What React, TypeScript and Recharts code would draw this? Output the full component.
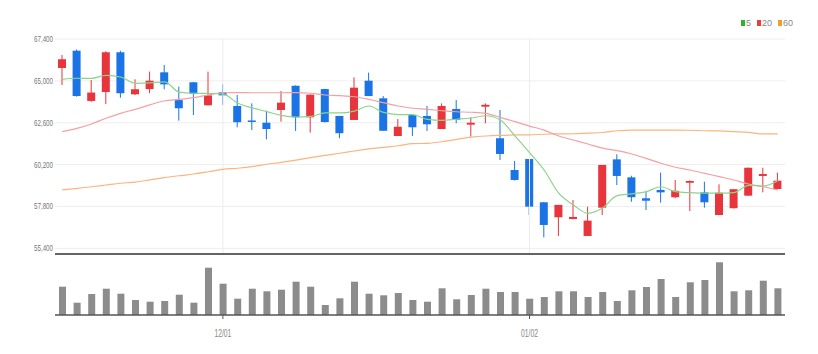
import React from "react";
import {
  ComposedChart,
  BarChart,
  Bar,
  Line,
  XAxis,
  YAxis,
  CartesianGrid,
  ReferenceLine,
} from "recharts";

// 거래일 (MM/DD)
const dates = [
  "11/16", "11/17", "11/18", "11/21", "11/22", "11/23", "11/24", "11/25", "11/28", "11/29",
  "11/30", "12/01", "12/02", "12/05", "12/06", "12/07", "12/08", "12/09", "12/12", "12/13",
  "12/14", "12/15", "12/16", "12/19", "12/20", "12/21", "12/22", "12/23", "12/26", "12/27",
  "12/28", "12/29", "01/02", "01/03", "01/04", "01/05", "01/06", "01/09", "01/10", "01/11",
  "01/12", "01/13", "01/16", "01/17", "01/18", "01/19", "01/20", "01/25", "01/26", "01/27",
];

const opens = [
  65740, 66730, 63850, 64360, 66640, 64230, 64530, 65490, 63900, 64920,
  63600, 64350, 63560, 62730, 62600, 63330, 64720, 62910, 64530, 62990,
  62760, 65010, 64000, 61840, 63040, 62990, 62240, 63390, 62490, 63520,
  61710, 59890, 60520, 58040, 57180, 57080, 56110, 57730, 60500, 59470,
  58270, 58750, 58330, 59160, 58610, 57310, 57700, 58420, 59550, 58800,
];
const highs = [
  66480, 66800, 65050, 66700, 66730, 65090, 65530, 65910, 64670, 64940,
  65530, 64800, 64190, 63710, 63290, 64420, 64740, 64220, 64550, 62990,
  65200, 65470, 64130, 62810, 63050, 63560, 63710, 63900, 62910, 63710,
  63330, 60410, 60520, 58060, 57890, 58170, 57790, 60180, 60790, 59560,
  58690, 59740, 59320, 59300, 59220, 59070, 58790, 60030, 60020, 59740,
];
const lows = [
  64760, 64100, 63800, 63670, 64030, 64190, 64290, 64520, 62720, 63040,
  63590, 63620, 62340, 62180, 61650, 62660, 62130, 62030, 62620, 61710,
  62760, 64130, 62140, 61840, 61840, 62130, 62240, 62570, 61800, 62570,
  60460, 59290, 57310, 56030, 56110, 57070, 56110, 57310, 59030, 58070,
  57600, 58020, 58270, 57540, 57730, 57310, 57690, 58420, 58610, 58800,
];
const closes = [
  66240, 64130, 64330, 66640, 64290, 64520, 65010, 64800, 63430, 64270,
  64170, 64170, 62630, 62670, 62240, 63750, 62910, 64210, 62640, 62000,
  64610, 64130, 62140, 62370, 62340, 62510, 63560, 62760, 62600, 63630,
  60810, 59320, 57790, 56740, 57890, 57200, 56990, 60180, 59550, 58330,
  58130, 58610, 58700, 59260, 58040, 58590, 58790, 60020, 59660, 59280,
];

// 이동평균선
const ma5 = [
  65090, 65150, 65140, 65310, 65220, 64860, 64880, 64940, 64360, 64290,
  64280, 64250, 63730, 63450, 63240, 63020, 62930, 62960, 63160, 63160,
  63270, 63560, 63190, 63070, 63070, 62790, 62740, 62800, 62870, 63000,
  62760, 61850, 60890, 59890, 58560, 57890, 57410, 57710, 58420, 58520,
  58650, 58930, 58650, 58590, 58560, 58560, 58590, 59010, 58970, 59280,
];
const ma20 = [
  62090, 62280, 62530, 62860, 63140, 63370, 63620, 63860, 63940, 64040,
  64190, 64320, 64330, 64320, 64320, 64320, 64330, 64290, 64190, 64150,
  64090, 63940, 63750, 63560, 63430, 63370, 63290, 63230, 63200, 63140,
  62910, 62660, 62410, 62180, 61840, 61610, 61380, 61140, 61000, 60810,
  60560, 60280, 60050, 59890, 59700, 59510, 59320, 59090, 58930, 58750,
];
const ma60 = [
  58750, 58840, 58930, 59030, 59130, 59200, 59320, 59450, 59560, 59660,
  59790, 59930, 59990, 60080, 60220, 60330, 60460, 60600, 60730, 60850,
  60980, 61100, 61190, 61280, 61400, 61420, 61510, 61650, 61770, 61840,
  61880, 61900, 61910, 61940, 61960, 61970, 62000, 62040, 62140, 62180,
  62180, 62180, 62180, 62170, 62140, 62130, 62090, 62050, 61960, 61960,
];

// 거래량
const volumes = [
  283, 123, 210, 263, 213, 150, 133, 140, 203, 123,
  473, 313, 163, 263, 237, 253, 333, 283, 100, 167,
  333, 213, 197, 220, 150, 133, 267, 157, 200, 263,
  230, 230, 163, 180, 237, 237, 180, 230, 140, 247,
  280, 360, 180, 327, 350, 527, 237, 247, 343, 267,
];

const priceTicks = [55400, 57800, 60200, 62600, 65000, 67400];
const monthTicks = ["12/01", "01/02"];

const UP = "#e8343b";
const DOWN = "#1a74e6";
const FONT = "'Liberation Sans Narrow', 'Liberation Sans', Arial, sans-serif";

const data = dates.map((date, i) => ({
  date,
  open: opens[i],
  high: highs[i],
  low: lows[i],
  close: closes[i],
  ma5: ma5[i],
  ma20: ma20[i],
  ma60: ma60[i],
  volume: volumes[i],
}));

// 캔들 모양 (막대 범위 = 저가~고가)
const Candle = (props: any) => {
  const { x, y, width, height, payload } = props;
  const { open, close, high, low } = payload;
  const ratio = height / (high - low || 1);
  const cx = x + width / 2;
  const top = y + (high - Math.max(open, close)) * ratio;
  const bodyH = Math.max(Math.abs(open - close) * ratio, 1.5);
  const color = close >= open ? UP : DOWN;
  return (
    <g>
      <line x1={cx} x2={cx} y1={y} y2={y + height} stroke={color} strokeWidth={1} />
      <rect x={x} y={top} width={width} height={bodyH} fill={color} />
    </g>
  );
};

// 좁은 글꼴 느낌의 가격 눈금
const PriceTick = (props: any) => {
  const { x, y, payload } = props;
  const label = Number(payload.value).toLocaleString("en-US");
  return (
    <text
      x={x}
      y={y}
      dy={3}
      textAnchor="end"
      fontSize={9}
      fill="#777"
      fontFamily={FONT}
      textLength={19}
      lengthAdjust="spacingAndGlyphs"
    >
      {label}
    </text>
  );
};

const DateTick = (props: any) => {
  const { x, y, payload } = props;
  return (
    <text
      x={x}
      y={y}
      dy={8}
      textAnchor="middle"
      fontSize={10.5}
      fill="#888"
      fontFamily={FONT}
      textLength={17}
      lengthAdjust="spacingAndGlyphs"
    >
      {payload.value}
    </text>
  );
};

const legendItems = [
  { label: "5", color: "#2cb52c" },
  { label: "20", color: "#ee3b3b" },
  { label: "60", color: "#f59a2f" },
];

const App: React.FC = () => {
  return (
    <div
      style={{
        position: "absolute",
        left: 0,
        top: 0,
        width: 818,
        height: 354,
        background: "#fff",
        fontFamily: FONT,
      }}
    >
      {/* 범례 */}
      <div
        style={{
          position: "absolute",
          top: 18,
          left: 741,
          display: "flex",
          alignItems: "center",
          fontSize: 9,
          color: "#888",
        }}
      >
        {legendItems.map((it) => (
          <span key={it.label} style={{ display: "flex", alignItems: "center", marginRight: 6 }}>
            <span style={{ width: 4, height: 6, background: it.color, marginRight: 1 }} />
            {it.label}
          </span>
        ))}
      </div>

      {/* 주가 차트 */}
      <div style={{ position: "absolute", left: 0, top: 0 }}>
        <ComposedChart
          width={818}
          height={256}
          data={data}
          margin={{ top: 39, right: 33, bottom: 1, left: 0 }}
        >
          <CartesianGrid vertical={false} stroke="#eeeeee" />
          <XAxis dataKey="date" tick={false} height={1} tickLine={false} axisLine={{ stroke: "#333", strokeWidth: 1.5 }} />
          <YAxis
            width={55}
            domain={[55076, 67400]}
            allowDataOverflow
            ticks={priceTicks}
            interval={0}
            axisLine={false}
            tickLine={false}
            tickSize={0}
            tickMargin={2}
            tick={<PriceTick />}
          />
          {monthTicks.map((m) => (
            <ReferenceLine key={m} x={m} stroke="#ececec" />
          ))}
          <Line type="monotone" dataKey="ma60" stroke="#fcb47e" strokeWidth={1.2} dot={false} isAnimationActive={false} />
          <Line type="monotone" dataKey="ma20" stroke="#f4a0a0" strokeWidth={1.2} dot={false} isAnimationActive={false} />
          <Line type="monotone" dataKey="ma5" stroke="#8cd48a" strokeWidth={1.2} dot={false} isAnimationActive={false} />
          <Bar
            dataKey={(d: any) => [d.low, d.high]}
            barSize={8}
            shape={Candle}
            isAnimationActive={false}
          />
        </ComposedChart>
      </div>

      {/* 거래량 차트 */}
      <div style={{ position: "absolute", left: 0, top: 255 }}>
        <BarChart
          width={818}
          height={99}
          data={data}
          margin={{ top: 3, right: 33, bottom: 9, left: 55 }}
        >
          <XAxis
            dataKey="date"
            ticks={monthTicks}
            interval={0}
            height={30}
            tickSize={4}
            tickMargin={10}
            axisLine={{ stroke: "#555", strokeWidth: 1.5 }}
            tickLine={{ stroke: "#555" }}
            tick={<DateTick />}
          />
          <YAxis hide domain={[0, 570]} />
          <Bar dataKey="volume" fill="#8c8c8c" barSize={7} isAnimationActive={false} />
        </BarChart>
      </div>
    </div>
  );
};

export default App;
